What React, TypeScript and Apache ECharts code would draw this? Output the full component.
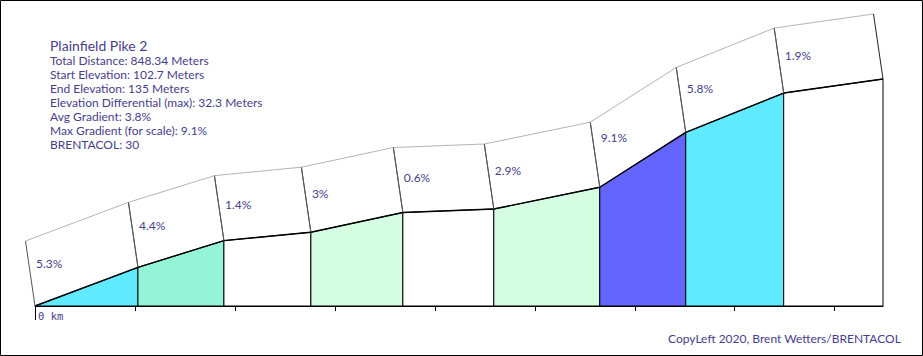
import React, { useEffect, useRef } from "react";
import * as echarts from "echarts";

const distances = [0, 103, 189, 276, 368, 459, 565, 651, 749, 848.34];
const elevations = [102.7, 108.2, 112.0, 113.2, 116.0, 116.5, 119.6, 127.4, 133.0, 135.0];
const gradients = [5.3, 4.4, 1.4, 3, 0.6, 2.9, 9.1, 5.8, 1.9];
const gradientLabels = ["5.3%", "4.4%", "1.4%", "3%", "0.6%", "2.9%", "9.1%", "5.8%", "1.9%"];
const tickValues = [0, 100, 200, 300, 400, 500, 600, 700, 800];
const title = "Plainfield Pike 2";
const infoLines = [
  "Total Distance: 848.34 Meters",
  "Start Elevation: 102.7 Meters",
  "End Elevation: 135 Meters",
  "Elevation Differential (max): 32.3 Meters",
  "Avg Gradient: 3.8%",
  "Max Gradient (for scale): 9.1%",
  "BRENTACOL: 30",
];
const credit = "CopyLeft 2020, Brent Wetters/BRENTACOL";

const TEXT = "#483d8b";
const FONT = "Lato, 'Open Sans', sans-serif";

function colorFor(g: number): string {
  if (g >= 9) return "#6464ff";
  if (g >= 5) return "#60eaff";
  if (g >= 4) return "#96f4d6";
  if (g >= 2) return "#d4fde2";
  return "#ffffff";
}

export default function App() {
  const ref = useRef<HTMLDivElement>(null);
  useEffect(() => {
    if (!ref.current) return;
    const chart = echarts.init(ref.current, undefined, { renderer: "svg" });
    const segs = gradients.map((g, i) => [
      distances[i],
      elevations[i],
      distances[i + 1],
      elevations[i + 1],
      g,
      i,
    ]);
    const yMin = elevations[0];
    const yMax = elevations[elevations.length - 1];
    const SK = [-9.5, -65];

    const graphics: any[] = [
      {
        type: "rect",
        shape: { x: 0.5, y: 0.5, width: 922, height: 355 },
        style: { fill: "none", stroke: "#000", lineWidth: 1 },
        silent: true,
        z: 100,
      },
      {
        type: "text",
        x: 50,
        y: 45,
        style: { text: title, fill: TEXT, font: `14px ${FONT}`, textVerticalAlign: "middle" },
      },
      ...infoLines.map((t, i) => ({
        type: "text",
        x: 50,
        y: 60 + i * 14.1,
        style: { text: t, fill: TEXT, font: `12px ${FONT}`, textVerticalAlign: "middle" },
      })),
      {
        type: "text",
        right: 22,
        y: 332,
        style: { text: credit, fill: TEXT, font: `12px ${FONT}` },
      },
    ];

    chart.setOption({
      animation: false,
      grid: { left: 35, right: 40, top: 79, bottom: 50 },
      xAxis: {
        type: "value",
        min: 0,
        max: distances[distances.length - 1],
        interval: 100,
        splitLine: { show: false },
        axisLine: { show: true, lineStyle: { color: "#000", width: 1 } },
        axisTick: {
          show: true,
          length: 5,
          customValues: tickValues,
          lineStyle: { color: "#000", width: 1 },
        },
        axisLabel: {
          show: true,
          customValues: [0],
          formatter: () => "0 km",
          color: TEXT,
          fontFamily: "'DejaVu Sans Mono', monospace",
          fontSize: 10.5,
          align: "left",
          margin: 4,
          padding: [0, 0, 0, 3],
        },
      },
      yAxis: { type: "value", min: yMin, max: yMax, show: false, splitLine: { show: false } },
      graphic: graphics,
      series: [
        {
          type: "custom",
          clip: false,
          data: segs,
          renderItem: (params: any, api: any) => {
            const d0 = api.value(0), e0 = api.value(1), d1 = api.value(2), e1 = api.value(3);
            const g = api.value(4);
            const idx = api.value(5);
            const b0 = api.coord([d0, yMin]);
            const b1 = api.coord([d1, yMin]);
            const p0 = api.coord([d0, e0]);
            const p1 = api.coord([d1, e1]);
            const t0 = [p0[0] + SK[0], p0[1] + SK[1]];
            const t1 = [p1[0] + SK[0], p1[1] + SK[1]];
            const lp = api.coord([d0 + 24, e0 + (g / 100) * 24]);
            const children: any[] = [
              {
                type: "polygon",
                shape: { points: [b0, p0, p1, b1] },
                style: { fill: colorFor(g), stroke: "#000", lineWidth: 1 },
              },
              {
                type: "line",
                shape: { x1: p0[0], y1: p0[1], x2: p1[0], y2: p1[1] },
                style: { stroke: "#000", lineWidth: 1.4 },
              },
              {
                type: "line",
                shape: { x1: t0[0], y1: t0[1], x2: t1[0], y2: t1[1] },
                style: { stroke: "#b4b4b4", lineWidth: 1 },
              },
              {
                type: "line",
                shape: { x1: p0[0], y1: p0[1], x2: t0[0], y2: t0[1] },
                style: { stroke: "#555", lineWidth: 1 },
              },
              {
                type: "line",
                shape: { x1: p1[0], y1: p1[1], x2: t1[0], y2: t1[1] },
                style: { stroke: idx === gradients.length - 1 ? "#222" : "#555", lineWidth: 1 },
              },
              {
                type: "text",
                x: p0[0] + 1,
                y: lp[1] - 34,
                style: {
                  text: gradientLabels[idx],
                  fill: TEXT,
                  font: `12px ${FONT}`,
                  textVerticalAlign: "middle",
                },
              },
            ];
            if (idx === 0) {
              children.push({
                type: "line",
                shape: { x1: b0[0] + 0.5, y1: b0[1], x2: b0[0] + 0.5, y2: b0[1] + 14 },
                style: { stroke: "#000", lineWidth: 1 },
              });
            }
            return { type: "group", children };
          },
        },
      ],
    });
    return () => chart.dispose();
  }, []);
  return (
    <div
      ref={ref}
      style={{ position: "absolute", left: 0, top: 0, width: 923, height: 356, background: "#fff" }}
    />
  );
}
